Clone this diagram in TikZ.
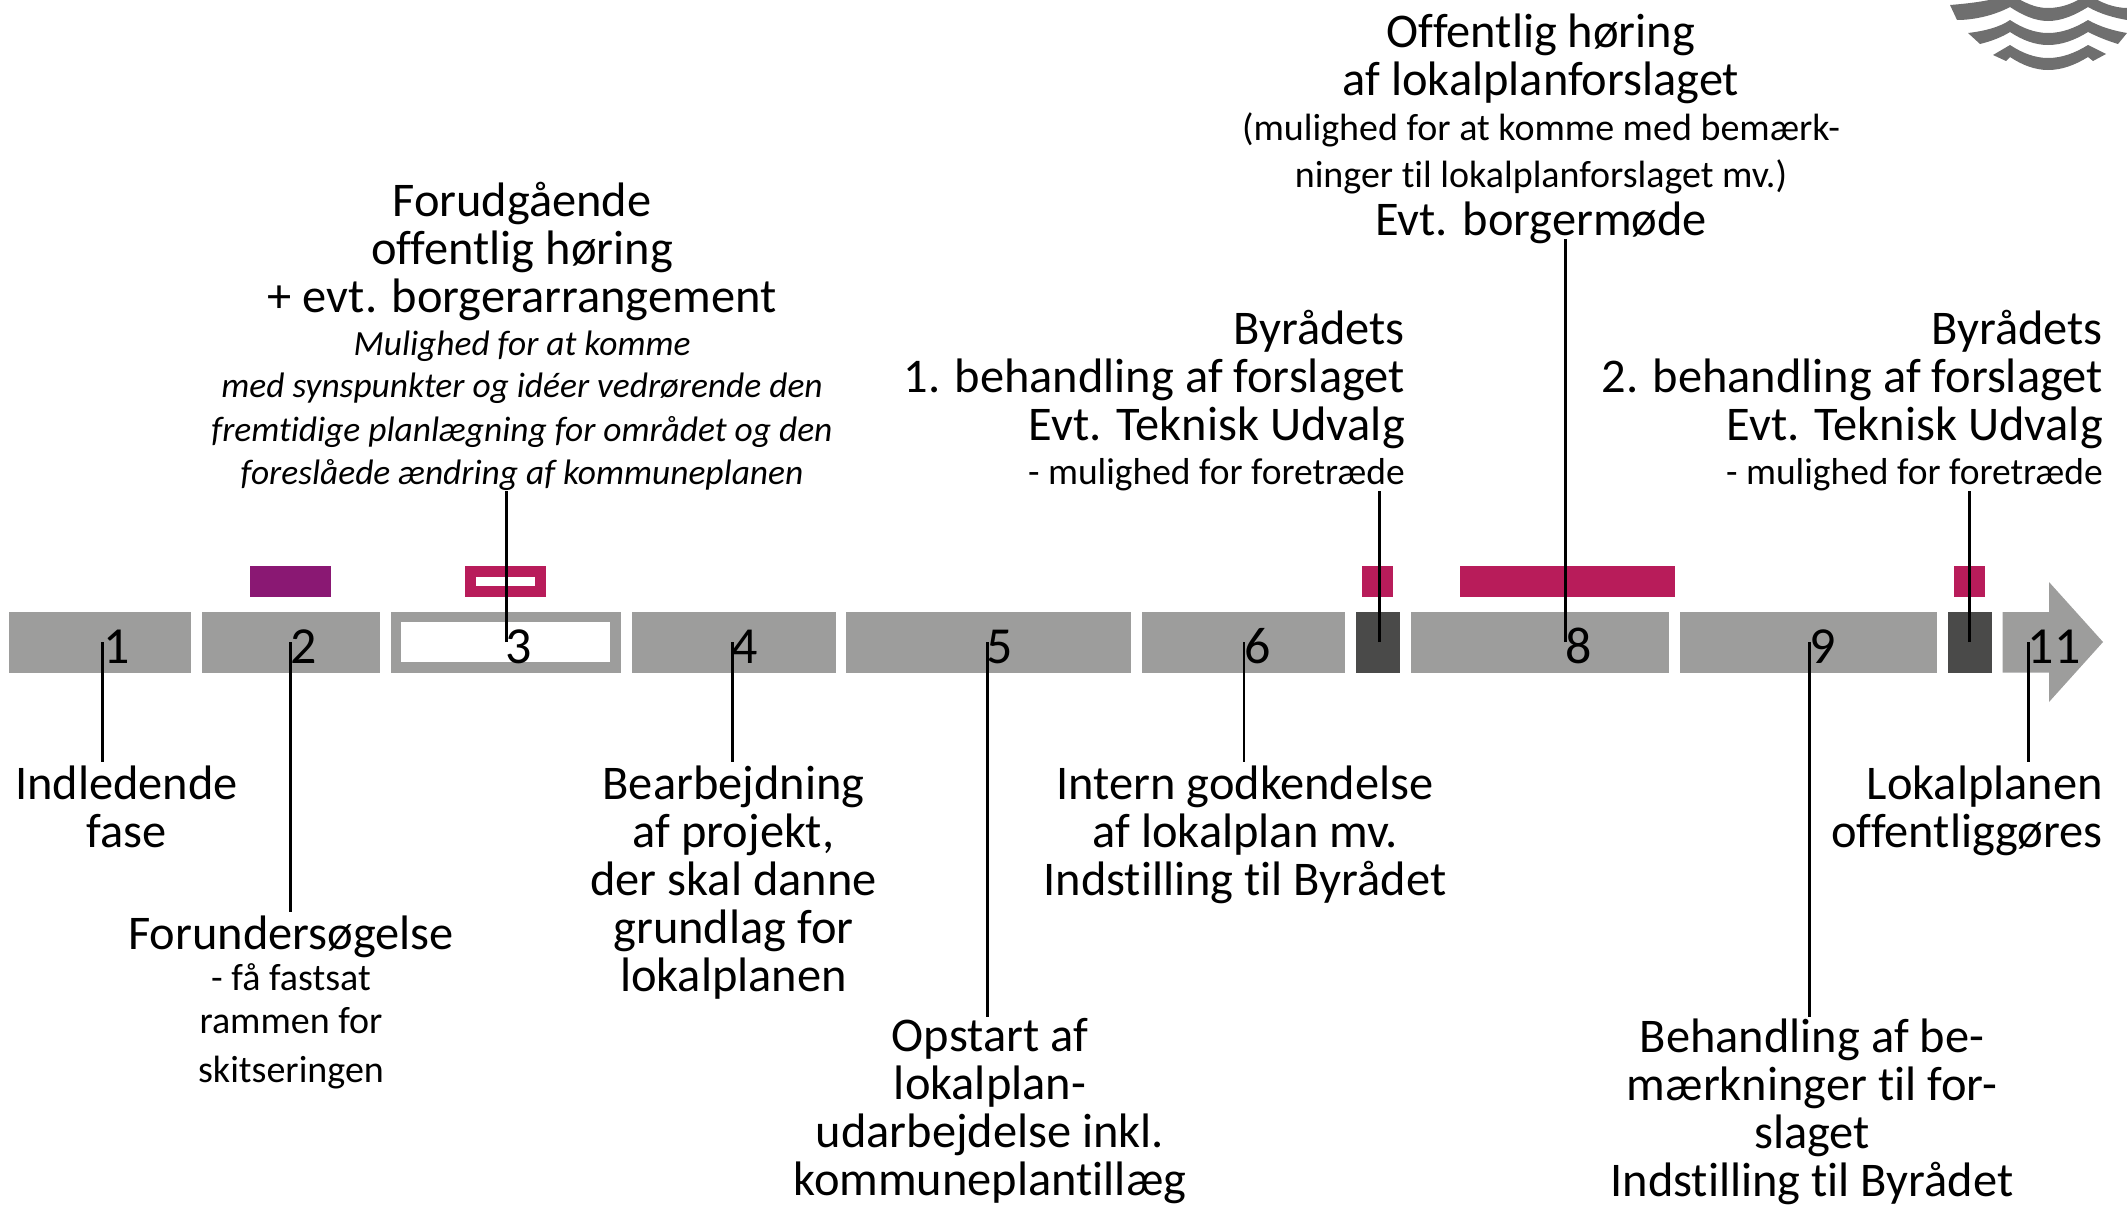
\documentclass[tikz,border=0pt]{standalone}
\usepackage{fontspec}
\setmainfont[Ligatures=NoCommon]{Carlito}
\definecolor{barg}{HTML}{9D9D9C}
\definecolor{bard}{HTML}{4A4A49}
\definecolor{purp}{HTML}{8A1873}
\definecolor{crim}{HTML}{B81C5A}
\definecolor{logo}{HTML}{6F6F6F}
\newcommand{\lnB}[1]{\fontsize{38}{48}\selectfont #1}
\newcommand{\lnC}[1]{\fontsize{37.5}{48}\selectfont #1}
\newcommand{\lnI}[1]{\fontsize{35.4}{48}\selectfont\itshape #1}
\newcommand{\seg}[4]{\node[bar,fill=#4,minimum width={#3-#2}] (#1) at ({(#2+#3)/2},642.35) {};}
\newcommand{\tab}[4]{\node[tabb,fill=#4,minimum width={#3-#2}] (#1) at ({(#2+#3)/2},581.5) {};}
\begin{document}
\begin{tikzpicture}[x=1pt,y=-1pt,
  bar/.style={draw=none,inner sep=0pt,outer sep=0pt,minimum height=60.7pt},
  tabb/.style={draw=none,inner sep=0pt,outer sep=0pt,minimum height=31pt},
  num/.style={inner sep=0pt,anchor=base,font=\fontsize{52}{52}\selectfont},
  lab/.style={inner sep=0pt,align=center,anchor=north,font=\fontsize{48.4}{48}\selectfont},
  labr/.style={inner sep=0pt,align=right,anchor=north east,font=\fontsize{48.4}{48}\selectfont},
  conn/.style={draw=black,line width=2.6pt}]
\useasboundingbox (0,0) rectangle (2127,1205);
% logo
\begin{scope}
\clip (0,0) rectangle (2127,1205);
\fill[logo] (1950,5) .. controls (1975,3) and (1995,0) .. (2010,-6)
  .. controls (2025,3) and (2035,8) .. (2048,8) .. controls (2062,8) and (2075,3) .. (2088,-6)
  .. controls (2100,3) and (2115,8) .. (2127,8) -- (2127,20)
  .. controls (2115,18) and (2100,14) .. (2088,7) .. controls (2075,15) and (2062,21) .. (2048,21)
  .. controls (2035,21) and (2022,15) .. (2010,7) .. controls (1995,15) and (1975,20) .. (1957,20) -- cycle;
\fill[logo] (1968,33) .. controls (1985,31) and (2000,27) .. (2010,20)
  .. controls (2022,28) and (2035,33) .. (2048,33) .. controls (2062,33) and (2075,28) .. (2088,20)
  .. controls (2100,27) and (2115,31) .. (2127,33) -- (2118,44)
  .. controls (2108,41) and (2098,37) .. (2088,32) .. controls (2075,40) and (2062,45) .. (2048,45)
  .. controls (2035,45) and (2022,40) .. (2010,32) .. controls (2002,37) and (1992,41) .. (1980,44) -- cycle;
\fill[logo] (1993,55) -- (2010,45) .. controls (2022,53) and (2035,58) .. (2048,58)
  .. controls (2062,58) and (2075,53) .. (2088,45) -- (2106,54) -- (2093,61) -- (2088,57)
  .. controls (2075,65) and (2062,70) .. (2048,70) .. controls (2035,70) and (2022,65) .. (2010,57)
  -- (2006,61) -- cycle;
\end{scope}
% bar segments
\seg{s1}{9}{191}{barg}
\seg{s2}{202}{380}{barg}
\seg{s3}{391}{620.5}{barg}
\node[inner sep=0pt,fill=white,minimum width=209pt,minimum height=40pt] (s3i) at (505.5,642) {};
\seg{s4}{632}{836}{barg}
\seg{s5}{846.4}{1131}{barg}
\seg{s6}{1142}{1345}{barg}
\seg{s7}{1356}{1400}{bard}
\seg{s8}{1411}{1669}{barg}
\seg{s9}{1680}{1937}{barg}
\seg{s10}{1948}{1991.5}{bard}
\fill[barg] (2002.5,612) -- (2049,612) -- (2049,582) -- (2103,642) -- (2049,702) -- (2049,672.7) -- (2002.5,672.7) -- cycle;
% small bars above
\tab{t2}{250}{331}{purp}
\tab{t3}{465}{545.5}{crim}
\node[inner sep=0pt,fill=white,minimum width=59pt,minimum height=9pt] (t3i) at (505.5,581.5) {};
\tab{t7}{1362}{1393}{crim}
\tab{t8}{1460}{1675}{crim}
\tab{t10}{1954}{1985}{crim}
% numbers
\node[num] (n1) at (117,663) {1};
\node[num] (n2) at (303.6,663) {2};
\node[num] (n3) at (519,663) {3};
\node[num] (n4) at (745,663) {4};
\node[num] (n5) at (1000,663) {5};
\node[num] (n6) at (1258,663) {6};
\node[num] (n8) at (1579,663) {8};
\node[num] (n9) at (1823,663) {9};
\node[num] (n11) at (2054,663) {11};
% labels
\node[lab] (a1) at (126.5,765.5) {Indledende\\fase};
\node[lab] (a2) at (291,915.5) {Forundersøgelse\\[-7pt]\lnB{- få fastsat}\\[-5pt]\lnB{rammen for}\\[1pt]\lnB{skitseringen}};
\node[lab] (a4) at (733.5,765.5) {Bearbejdning\\af projekt,\\der skal danne\\grundlag for\\lokalplanen};
\node[lab] (a5) at (990,1018.5) {Opstart af\\lokalplan-\\udarbejdelse inkl.\\kommuneplantillæg};
\node[lab] (a6) at (1245,765.5) {Intern godkendelse\\af lokalplan mv.\\Indstilling til Byrådet};
\node[lab] (a9) at (1812,1018.5) {Behandling af be-\\mærkninger til for-\\slaget\\Indstilling til Byrådet};
\node[labr] (a11) at (2103,765.5) {Lokalplanen\\offentliggøres};
\node[labr] (a7) at (1405,310) {Byrådets\\1. behandling af forslaget\\Evt. Teknisk Udvalg\\[-4pt]\lnC{- mulighed for foretræde}};
\node[labr] (a10) at (2103,310) {Byrådets\\2. behandling af forslaget\\Evt. Teknisk Udvalg\\[-4pt]\lnC{- mulighed for foretræde}};
\node[lab] (a8) at (1541,14) {Offentlig høring\\af lokalplanforslaget\\[-3pt]\lnB{(mulighed for at komme med bemærk-}\\[-1pt]\lnB{ninger til lokalplanforslaget mv.)}\\Evt. borgermøde};
\node[lab] (a3) at (522,182) {Forudgående\\offentlig høring\\+ evt. borgerarrangement\\[-5pt]\lnI{Mulighed for at komme}\\[-6pt]\lnI{med synspunkter og idéer vedrørende den}\\[-4pt]\lnI{fremtidige planlægning for området og den}\\[-5pt]\lnI{foreslåede ændring af kommuneplanen}};
% connectors
\coordinate (c1a) at (102.5,642); \coordinate (c1b) at (102.5,762);
\coordinate (c2a) at (290.5,642); \coordinate (c2b) at (290.5,912);
\coordinate (c3a) at (506.7,642); \coordinate (c3b) at (506.7,491);
\coordinate (c4a) at (732.3,642); \coordinate (c4b) at (732.3,762);
\coordinate (c5a) at (987.5,642); \coordinate (c5b) at (987.5,1017);
\coordinate (c6a) at (1244,642); \coordinate (c6b) at (1244,762);
\coordinate (c7a) at (1379.5,642); \coordinate (c7b) at (1379.5,491);
\coordinate (c8a) at (1565.7,642); \coordinate (c8b) at (1565.7,239);
\coordinate (c9a) at (1809.7,642); \coordinate (c9b) at (1809.7,1017);
\coordinate (c10a) at (1969.3,642); \coordinate (c10b) at (1969.3,491);
\coordinate (c11a) at (2028.3,642); \coordinate (c11b) at (2028.3,762);
\foreach \k in {1,...,11} \draw[conn] (c\k a) -- (c\k b);
\end{tikzpicture}
\end{document}
